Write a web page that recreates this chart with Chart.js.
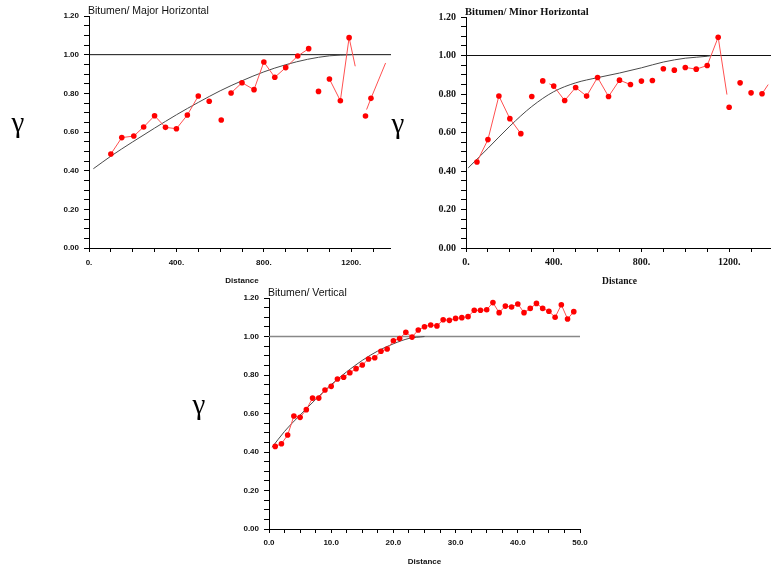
<!DOCTYPE html>
<html>
<head>
<meta charset="utf-8">
<script src="https://cdn.jsdelivr.net/npm/chart.js@4.4.1/dist/chart.umd.min.js"></script>
<style>
  html, body { margin: 0; padding: 0; background: #fff; }
  body { width: 771px; height: 569px; position: relative; overflow: hidden; }
  .panel { position: absolute; overflow: hidden; }
  .panel canvas { position: absolute; left: 0; top: 0; }
</style>
</head>
<body>
<div class="panel" style="left:0;top:0;width:391px;height:292px"><canvas id="major" width="401" height="292"></canvas></div>
<div class="panel" style="left:386px;top:0;width:385px;height:292px"><canvas id="minor" width="391" height="292"></canvas></div>
<div class="panel" style="left:180px;top:284px;width:420px;height:285px"><canvas id="vertical" width="420" height="285"></canvas></div>
<script>
// experimental variogram points, bitumen, major horizontal direction
const majorLag   = [100, 150, 205, 250, 300, 350, 400, 450, 500, 550, 605, 650, 700, 755, 800, 850, 900, 955, 1005, 1050, 1100, 1150, 1190, 1265, 1290];
const majorGamma = [0.486, 0.571, 0.579, 0.626, 0.684, 0.624, 0.617, 0.688, 0.786, 0.759, 0.662, 0.802, 0.855, 0.819, 0.962, 0.883, 0.933, 0.993, 1.031, 0.810, 0.874, 0.762, 1.088, 0.683, 0.774];
// connecting trace (null = pen up)
const majorTraceLag   = [100, 150, 205, 250, 300, 350, 400, 450, 500, null, 650, 700, 755, 800, 850, 900, 955, 1005, null, 1100, 1150, 1190, 1218, null, 1270, 1290, 1357];
const majorTraceGamma = [0.486, 0.571, 0.579, 0.626, 0.684, 0.624, 0.617, 0.688, 0.786, null, 0.802, 0.855, 0.819, 0.962, 0.883, 0.933, 0.993, 1.031, null, 0.874, 0.762, 1.088, 0.94, null, 0.716, 0.774, 0.957];
const majorModelLag   = [20, 100, 200, 300, 400, 500, 600, 700, 800, 900, 1000, 1100, 1200];
const majorModelGamma = [0.41, 0.475, 0.549, 0.620, 0.689, 0.753, 0.813, 0.865, 0.911, 0.948, 0.976, 0.994, 1.0];

// minor horizontal direction
const minorLag   = [50, 100, 150, 200, 250, 300, 350, 400, 450, 500, 550, 600, 650, 700, 750, 800, 850, 900, 950, 1000, 1050, 1100, 1150, 1200, 1250, 1300, 1350];
const minorGamma = [0.447, 0.563, 0.790, 0.672, 0.594, 0.787, 0.868, 0.841, 0.766, 0.834, 0.789, 0.886, 0.787, 0.872, 0.849, 0.867, 0.870, 0.931, 0.924, 0.938, 0.929, 0.948, 1.095, 0.731, 0.858, 0.806, 0.801];
const minorTraceLag   = [50, 100, 150, 200, 250, null, 380, 400, 450, 500, 550, 600, 650, 700, 750, null, 1000, 1050, 1100, 1150, 1190, null, 1350, 1378];
const minorTraceGamma = [0.447, 0.563, 0.790, 0.672, 0.594, null, 0.853, 0.841, 0.766, 0.834, 0.789, 0.886, 0.787, 0.872, 0.849, null, 0.938, 0.929, 0.948, 1.095, 0.797, null, 0.801, 0.849];
const minorModelLag   = [10, 100, 200, 300, 400, 500, 600, 700, 800, 900, 1000, 1100, 1120];
const minorModelGamma = [0.416, 0.518, 0.633, 0.735, 0.812, 0.858, 0.885, 0.909, 0.936, 0.966, 0.986, 0.996, 1.0];

// vertical direction
const vertLag   = [1, 2, 3, 4, 5, 6, 7, 8, 9, 10, 11, 12, 13, 14, 15, 16, 17, 18, 19, 20, 21, 22, 23, 24, 25, 26, 27, 28, 29, 30, 31, 32, 33, 34, 35, 36, 37, 38, 39, 40, 41, 42, 43, 44, 45, 46, 47, 48, 49];
const vertGamma = [0.429, 0.443, 0.488, 0.587, 0.580, 0.620, 0.680, 0.680, 0.722, 0.741,
                   0.779, 0.788, 0.812, 0.833, 0.852, 0.883, 0.890, 0.923, 0.935, 0.978,
                   0.989, 1.022, 0.997, 1.034, 1.051, 1.060, 1.055, 1.087, 1.084, 1.094,
                   1.098, 1.103, 1.136, 1.136, 1.139, 1.176, 1.124, 1.158, 1.153, 1.169,
                   1.124, 1.146, 1.172, 1.146, 1.131, 1.100, 1.165, 1.091, 1.129];
const vertModelLag   = [0.5, 2.5, 5, 7.5, 10, 12.5, 15, 17.5, 20, 22.5, 25];
const vertModelGamma = [0.425, 0.507, 0.592, 0.673, 0.750, 0.817, 0.876, 0.925, 0.962, 0.990, 1.0];

const SILL = 1.0;
const RED = '#ff0000';
const RED_LINE = '#ff5050';

function pairs(xs, ys) {
  return xs.map((x, i) => ({ x: x, y: ys[i] }));
}

// panel title and the gamma symbol beside the y axis
const panelLabels = {
  id: 'panelLabels',
  afterDraw(chart, args, opts) {
    const { ctx, chartArea: a } = chart;
    ctx.save();
    ctx.fillStyle = '#111';
    ctx.font = opts.titleFont;
    ctx.textAlign = 'left';
    ctx.textBaseline = 'middle';
    ctx.fillText(opts.title, a.left - 1, a.top - 5);
    ctx.fillStyle = '#000';
    ctx.font = '29px "Liberation Serif"';
    ctx.textAlign = 'center';
    ctx.textBaseline = 'alphabetic';
    ctx.fillText('\u03b3', a.left - opts.gammaOffset, (a.top + a.bottom) / 2);
    ctx.restore();
  }
};
Chart.register(panelLabels);

function panel(id, o) {
  return new Chart(document.getElementById(id), {
    type: 'scatter',
    data: {
      datasets: [
        { data: pairs(o.lag, o.gamma), showLine: !o.trace, borderColor: RED_LINE, borderWidth: 1,
          pointRadius: 2.8, pointBackgroundColor: RED, pointBorderWidth: 0 },
        { data: o.trace ? pairs(o.trace[0], o.trace[1]) : [], showLine: true, spanGaps: false,
          borderColor: RED_LINE, borderWidth: 1, pointRadius: 0 },
        { data: pairs(o.modelLag, o.modelGamma), showLine: true, cubicInterpolationMode: 'monotone',
          borderColor: '#4a4a4a', borderWidth: 1, pointRadius: 0 },
        { data: [{ x: 0, y: SILL }, { x: o.xMax, y: SILL }], showLine: true,
          borderColor: o.sillColor, borderWidth: o.sillWidth, pointRadius: 0 }
      ]
    },
    options: {
      responsive: false,
      animation: false,
      events: [],
      layout: { padding: o.pad },
      plugins: {
        legend: { display: false },
        tooltip: { enabled: false },
        panelLabels: { title: o.title, titleFont: o.titleFont, gammaOffset: o.gammaOffset }
      },
      scales: {
        x: {
          type: 'linear', min: 0, max: o.xMax,
          afterFit: s => { s.height = o.xAxisH; },
          border: { color: '#000', width: 1 },
          grid: { drawOnChartArea: false, tickLength: 4, tickColor: '#000' },
          ticks: { stepSize: o.xStep, autoSkip: false, maxRotation: 0, includeBounds: false,
                   padding: o.xPad, color: '#111', font: o.tickFont, callback: o.xLabel },
          title: { display: true, text: 'Distance', color: '#111', font: o.axisFont,
                   padding: { top: 0, bottom: o.titlePad } }
        },
        y: {
          type: 'linear', min: 0, max: 1.2,
          afterFit: s => { s.width = o.yAxisW; },
          border: { color: '#000', width: 1 },
          grid: { drawOnChartArea: false, tickLength: 5, tickColor: '#000' },
          ticks: { stepSize: 0.05, autoSkip: false, padding: 5, color: '#111', font: o.tickFont,
                   callback: v => (Math.round(v * 100) % 20 === 0 ? v.toFixed(2) : '') }
        }
      }
    }
  });
}

const sansTick = { family: 'Liberation Sans', size: 8, weight: 'bold' };
const serifTick = { family: 'Liberation Serif', size: 10, weight: 'bold' };

panel('major', {
  lag: majorLag, gamma: majorGamma, trace: [majorTraceLag, majorTraceGamma],
  modelLag: majorModelLag, modelGamma: majorModelGamma,
  xMax: 1400, xStep: 100, xLabel: v => (v % 400 === 0 ? v + '.' : ''),
  sillColor: '#111', sillWidth: 1,
  pad: { top: 16, right: 0, bottom: 0, left: 0 }, yAxisW: 89, xAxisH: 44, xPad: 6, titlePad: 6,
  tickFont: sansTick, axisFont: { family: 'Liberation Sans', size: 8, weight: 'bold' },
  title: 'Bitumen/ Major Horizontal', titleFont: '10.5px "Liberation Sans"', gammaOffset: 71
});

panel('minor', {
  lag: minorLag, gamma: minorGamma, trace: [minorTraceLag, minorTraceGamma],
  modelLag: minorModelLag, modelGamma: minorModelGamma,
  xMax: 1400, xStep: 100, xLabel: v => (v % 400 === 0 ? v + '.' : ''),
  sillColor: '#111', sillWidth: 1,
  pad: { top: 17, right: 0, bottom: 0, left: 0 }, yAxisW: 80, xAxisH: 44, xPad: 4, titlePad: 5,
  tickFont: serifTick, axisFont: { family: 'Liberation Serif', size: 9.5, weight: 'bold' },
  title: 'Bitumen/ Minor Horizontal', titleFont: 'bold 10.5px "Liberation Serif"', gammaOffset: 68
});

panel('vertical', {
  lag: vertLag, gamma: vertGamma, trace: null,
  modelLag: vertModelLag, modelGamma: vertModelGamma,
  xMax: 50, xStep: 2.5, xLabel: v => (v % 10 === 0 ? v.toFixed(1) : ''),
  sillColor: '#888', sillWidth: 1.5,
  pad: { top: 14, right: 20, bottom: 0, left: 0 }, yAxisW: 89, xAxisH: 40, xPad: 5, titlePad: 2,
  tickFont: sansTick, axisFont: { family: 'Liberation Sans', size: 8, weight: 'bold' },
  title: 'Bitumen/ Vertical', titleFont: '10.5px "Liberation Sans"', gammaOffset: 70
});
</script>
</body>
</html>
